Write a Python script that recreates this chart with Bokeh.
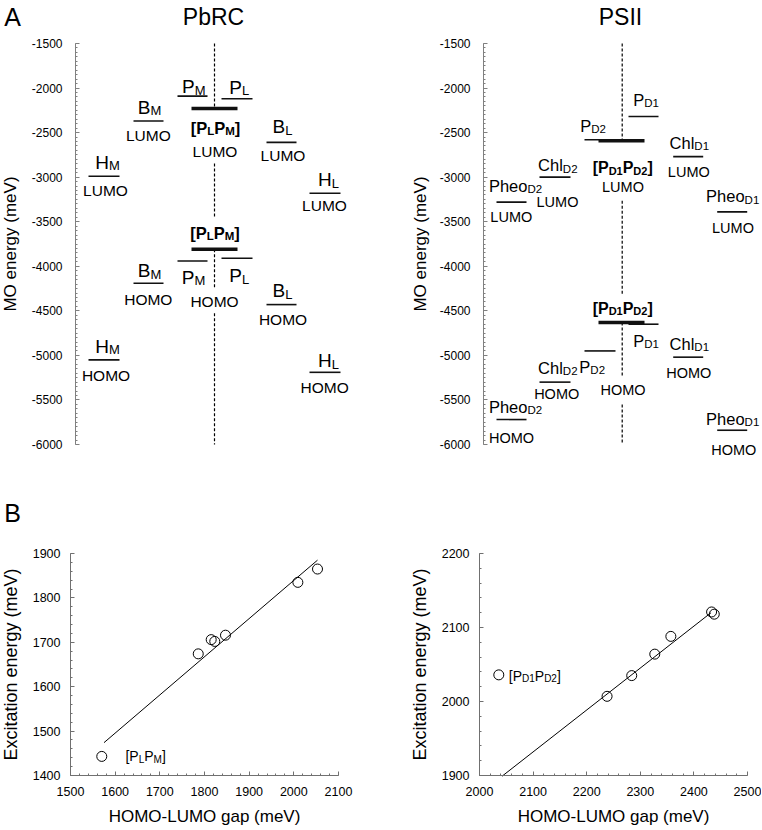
import re
from bokeh.plotting import figure
from bokeh.models import Label, Range1d, SingleIntervalTicker, ColumnDataSource, PrintfTickFormatter
from bokeh.layouts import column, row
from bokeh.embed import file_html
from bokeh.resources import INLINE

FONT = "Liberation Sans"

# ---------------- data ----------------
# A: MO energies (meV); {..} marks a subscript
pbrc_species = ["H{M}", "B{M}", "P{M}", "[P{L}P{M}]", "P{L}", "B{L}", "H{L}"]
pbrc_lumo = [-2990, -2370, -2090, -2230, -2120, -2610, -3180]
pbrc_homo = [-5050, -4190, -3940, -3810, -3910, -4430, -5190]

psii_species = ["Pheo{D2}", "Chl{D2}", "P{D2}", "[P{D1}P{D2}]", "P{D1}", "Chl{D1}", "Pheo{D1}"]
psii_lumo = [-3280, -3000, -2580, -2590, -2320, -2770, -3390]
psii_homo = [-5720, -5300, -4950, -4630, -4650, -5020, -5840]

# B: excitation energy vs HOMO-LUMO gap (meV)
pbrc_gap = [1570, 1786, 1815, 1823, 1847, 2009, 2053]
pbrc_exc = [1443, 1674, 1706, 1702, 1716, 1835, 1865]
pbrc_fit_x = [1575, 2053]
pbrc_fit_y = [1474, 1885]
pbrc_dimer_label = "[P{L}P{M}]"

psii_gap = [2036, 2238, 2284, 2327, 2357, 2433, 2438]
psii_exc = [2036, 2007, 2035, 2064, 2088, 2121, 2118]
psii_fit_x = [2042, 2432]
psii_fit_y = [1899, 2120]
psii_dimer_label = "[P{D1}P{D2}]"

# ---------------- helpers ----------------
REG = {'P': 667, 'M': 833, 'L': 556, 'B': 667, 'H': 722, 'D': 722, '1': 556, '2': 556,
       'C': 722, 'h': 556, 'l': 222, 'e': 556, 'o': 556, '[': 278, ']': 278,
       'U': 722, 'O': 778, ' ': 278}
BOLD = {'P': 667, 'M': 833, 'L': 611, 'D': 722, '1': 556, '2': 556, '[': 333, ']': 333}


def parse(spec):
    out = []
    for sub, norm in re.findall(r"\{([^}]*)\}|([^{]+)", spec):
        out.append((sub, True) if sub else (norm, False))
    return out


def text_w(t, size, bold):
    tab = BOLD if bold else REG
    return sum(tab.get(c, 556) for c in t) / 1000.0 * size


class Mapper:
    """page pixel <-> data, from two anchor points per axis"""
    def __init__(self, xa, ya):
        (self.px1, self.xv1), (px2, xv2) = xa
        (self.py1, self.yv1), (py2, yv2) = ya
        self.kx = (xv2 - self.xv1) / (px2 - self.px1)
        self.ky = (yv2 - self.yv1) / (py2 - self.py1)

    def X(self, px):
        return self.xv1 + (px - self.px1) * self.kx

    def Y(self, py):
        return self.yv1 + (py - self.py1) * self.ky

    def PX(self, x):
        return self.px1 + (x - self.xv1) / self.kx

    def PY(self, y):
        return self.py1 + (y - self.yv1) / self.ky


def make_fig(x0, y0, w, h, m):
    p = figure(width=w, height=h, output_backend="svg", toolbar_location=None,
               x_range=Range1d(m.X(x0), m.X(x0 + w)), y_range=Range1d(m.Y(y0 + h), m.Y(y0)),
               min_border=0, min_border_left=0, min_border_right=0,
               min_border_top=0, min_border_bottom=0,
               background_fill_color="white", border_fill_color="white")
    p.outline_line_color = None
    p.grid.visible = False
    return p


def add_text(p, m, px, py, text, size, bold=False, align="center"):
    p.add_layout(Label(x=m.X(px), y=m.Y(py), text=text, text_font=FONT,
                       text_font_size=f"{size}px",
                       text_font_style="bold" if bold else "normal",
                       text_align=align, text_baseline="middle", text_color="black"))


def add_rich(p, m, cx, cy, spec, size, sub_size, bold=False, anchor="center"):
    parts = parse(spec)
    ws = [text_w(t, sub_size if s else size, bold) for t, s in parts]
    x = cx - sum(ws) / 2 if anchor == "center" else cx
    drop = 0.358 * (size - sub_size) + 1.5
    for (t, s), w in zip(parts, ws):
        add_text(p, m, x, cy + (drop if s else 0), t, sub_size if s else size, bold, "left")
        x += w


def style_axis(ax, size_tick, size_label, standoff, label_standoff, color="#707070"):
    ax.axis_line_color = color
    ax.major_tick_line_color = color
    ax.minor_tick_line_color = color
    ax.major_tick_in = 4
    ax.major_tick_out = 0
    ax.minor_tick_in = 2
    ax.minor_tick_out = 0
    ax.formatter = PrintfTickFormatter(format="%d")
    ax.major_label_text_font = FONT
    ax.major_label_text_font_size = f"{size_tick}px"
    ax.major_label_text_color = "black"
    ax.major_label_standoff = standoff
    ax.axis_label_text_font = FONT
    ax.axis_label_text_font_size = f"{size_label}px"
    ax.axis_label_text_font_style = "normal"
    ax.axis_label_text_color = "black"
    ax.axis_label_standoff = label_standoff


TOP_H = 490
BOT_H = 338
LEFT_W = 378
RIGHT_W = 383


def level_panel(fig_x0, fig_w, axis_px, species, lumo, homo, lay):
    m = Mapper(((0, 0), (1, 1)), ((43, -1500), (444, -6000)))
    p = make_fig(fig_x0, 0, fig_w, TOP_H, m)
    p.xaxis.visible = False
    p.yaxis.fixed_location = axis_px
    p.yaxis.bounds = (-6000, -1500)
    p.yaxis.ticker = SingleIntervalTicker(interval=500, num_minor_ticks=10)
    p.yaxis.axis_label = "MO energy (meV)"
    style_axis(p.yaxis[0], 12, 17, 13, lay["label_standoff"], "#808080")
    kpx = -m.ky  # meV per pixel

    # central dashed line with gaps around the dimer labels
    xc = lay["center"]
    d = species.index(lay["dimer"])
    g1, g2, g3a, g3b = lay["gaps"]
    y0s = [-1500, lumo[d] - g1 * kpx, homo[d], homo[d] - g3b * kpx]
    y1s = [lumo[d], homo[d] + g2 * kpx, homo[d] - g3a * kpx, -6000]
    p.segment(x0=[xc] * 4, x1=[xc] * 4, y0=y0s, y1=y1s, line_color="black",
              line_width=1.2, line_dash="3 2")

    # level lines
    x0 = [c - h for c, h in zip(lay["x"], lay["half"])]
    x1 = [c + h for c, h in zip(lay["x"], lay["half"])]
    lw = [3.5 if s == lay["dimer"] else 1.6 for s in species]
    for e in (lumo, homo):
        src = ColumnDataSource(dict(x0=x0, x1=x1, y=e, lw=lw))
        p.segment(x0="x0", x1="x1", y0="y", y1="y", line_width="lw", line_color="#111111", source=src)

    # labels
    for i, s in enumerate(species):
        bold = s == lay["dimer"]
        size, sub = (lay["bold_size"] if bold else lay["name_size"])
        for e, key, tag in ((lumo[i], "lumo", "LUMO"), (homo[i], "homo", "HOMO")):
            nx, ndy = lay[key + "_name"][i]
            add_rich(p, m, nx, m.PY(e) + ndy, s, size, sub, bold)
            t = lay[key + "_tag"][i]
            if t is not None:
                add_text(p, m, t[0], m.PY(e) + t[1], tag, lay["tag_size"])
    add_text(p, m, lay["title"][0], 16, lay["title"][1], 23)
    return p, m


pbrc_layout = dict(
    center=214, dimer="[P{L}P{M}]", label_standoff=9,
    x=[103.5, 148, 192, 214, 236.5, 281, 324.5],
    half=[15.5, 15, 15, 23, 15.5, 15, 15.5],
    lumo_name=[(107, -14), (149, -14), (193.3, -9.6), (215, 19.5), (238.7, -11.5), (282, -16), (328, -13.7)],
    lumo_tag=[(105, 14), (147.8, 14.5), None, (214.5, 43), None, (282.5, 12.6), (324, 12.3)],
    homo_name=[(107, -13.6), (149, -12.7), (193, 16.3), (214.5, -16.8), (238.7, 17.2), (282, -14), (328, -11.8)],
    homo_tag=[(105.5, 15.2), (147.8, 16.3), None, (214, 52), None, (282.5, 15), (324.2, 15.2)],
    gaps=(55, 32, 38, 64),
    name_size=(19, 13), bold_size=(16.5, 11.5), tag_size=15.5, title=(213, "PbRC"))

psii_layout = dict(
    center=621.7, dimer="[P{D1}P{D2}]", label_standoff=7,
    x=[511, 554.5, 599.5, 621, 643, 687.7, 731.7],
    half=[15, 15.5, 15.5, 23, 15, 15, 15],
    lumo_name=[(515, -16.3), (557.3, -11.7), (592.5, -13.7), (622.2, 27), (645.5, -16.4), (688.8, -14), (732.2, -15.6)],
    lumo_tag=[(510.8, 14.4), (557, 24.5), None, (622.5, 46.6), None, (688.3, 15.8), (732.5, 15.6)],
    homo_name=[(515, -13), (557.3, -14), (591.7, 16), (622.2, -14.4), (645.5, 16.3), (688.8, -13), (732.2, -11.4)],
    homo_tag=[(511, 18), (556.2, 12.2), None, (622.5, 67.6), None, (688.3, 15.8), (733.3, 19.3)],
    gaps=(60, 27, 53, 82),
    name_size=(16.5, 11.5), bold_size=(16, 11), tag_size=14.5, title=(620, "PSII"))

p1, m1 = level_panel(0, LEFT_W, 75, pbrc_species, pbrc_lumo, pbrc_homo, pbrc_layout)
p2, m2 = level_panel(LEFT_W, RIGHT_W, 483, psii_species, psii_lumo, psii_homo, psii_layout)
add_text(p1, m1, 12, 16, "A", 25)


def scatter_panel(fig_x0, fig_w, xa, ya, xb, yb, gx, ey, fx, fy, lab, lab_dx, lab_dy, ylab_standoff):
    m = Mapper(xa, ya)
    p = make_fig(fig_x0, TOP_H, fig_w, BOT_H, m)
    p.xaxis.fixed_location = yb[0]
    p.yaxis.fixed_location = xb[0]
    p.xaxis.bounds = xb
    p.yaxis.bounds = yb
    p.xaxis.ticker = SingleIntervalTicker(interval=100, num_minor_ticks=5)
    p.yaxis.ticker = SingleIntervalTicker(interval=100, num_minor_ticks=5)
    p.xaxis.axis_label = "HOMO-LUMO gap (meV)"
    p.yaxis.axis_label = "Excitation energy (meV)"
    style_axis(p.xaxis[0], 12.5, 17, 11, 8)
    style_axis(p.yaxis[0], 12.5, 18, 10, ylab_standoff)
    p.line(fx, fy, line_color="black", line_width=1)
    p.scatter(gx, ey, marker="circle", size=10, fill_color=None, line_color="black", line_width=1)
    add_rich(p, m, m.PX(gx[0]) + lab_dx, m.PY(ey[0]) + lab_dy, lab, 14, 10, anchor="left")
    return p, m


p3, m3 = scatter_panel(0, LEFT_W, ((70, 1500), (338, 2100)), ((553, 1900), (775, 1400)),
                       (1500, 2100), (1400, 1900),
                       pbrc_gap, pbrc_exc, pbrc_fit_x, pbrc_fit_y, pbrc_dimer_label, 23.7, 0, 9)
p4, m4 = scatter_panel(LEFT_W, RIGHT_W, ((479, 2000), (747, 2500)), ((553, 2200), (775, 1900)),
                       (2000, 2500), (1900, 2200),
                       psii_gap, psii_exc, psii_fit_x, psii_fit_y, psii_dimer_label, 10, 0.7, 9)
add_text(p3, m3, 12, 512, "B", 25)

layout = column(row(p1, p2, spacing=0), row(p3, p4, spacing=0), spacing=0)
open("out.html", "w").write(file_html(layout, INLINE))
